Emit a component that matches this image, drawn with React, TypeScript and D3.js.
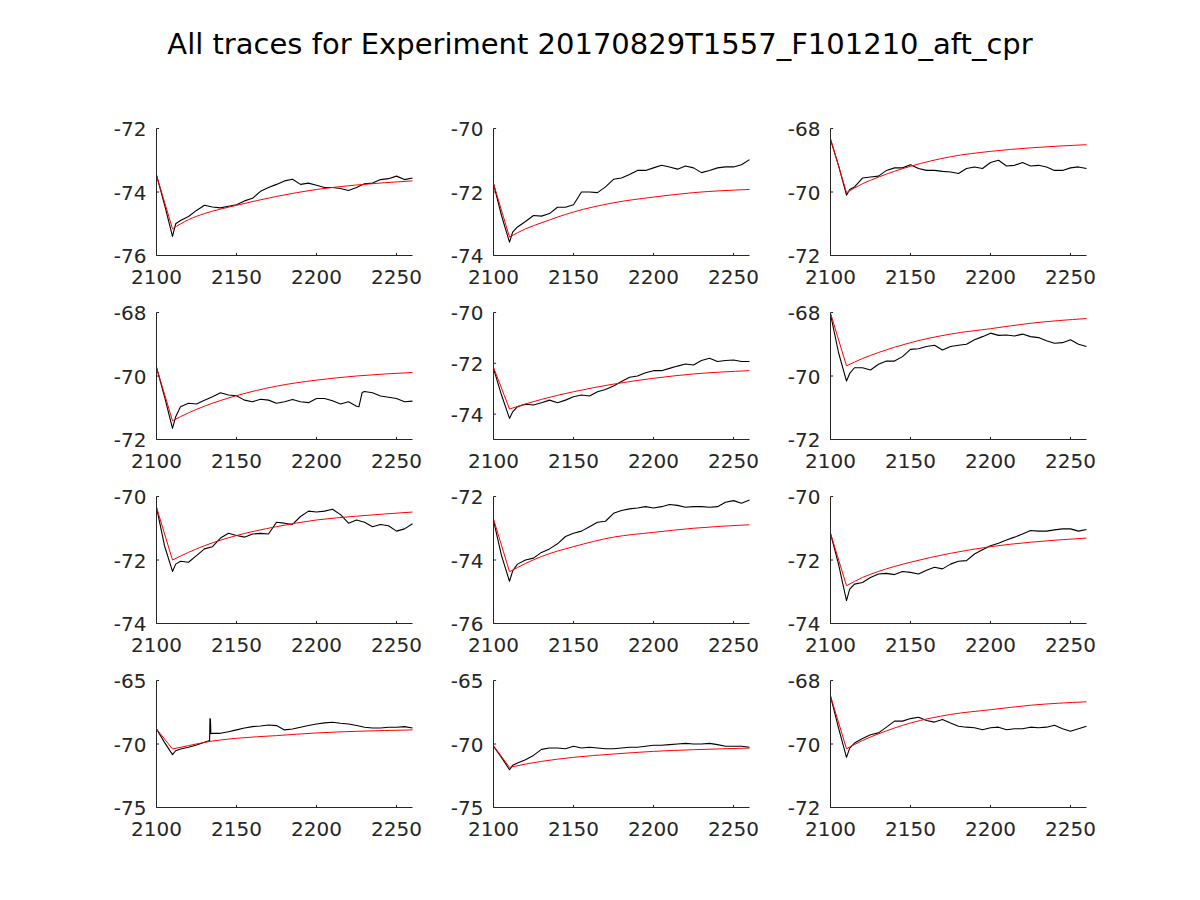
import React from "react";
import * as d3 from "d3";

const TITLE = "All traces for Experiment 20170829T1557_F101210_aft_cpr";

const TIME = [2100, 2105, 2110, 2112, 2115, 2120, 2125, 2130, 2135, 2140, 2145, 2150, 2155, 2160, 2165, 2170, 2175, 2180, 2185, 2190, 2195, 2200, 2205, 2210, 2215, 2220, 2225, 2230, 2235, 2240, 2245, 2250, 2255, 2260];
const FIT_TIME = [2100, 2110, 2120, 2130, 2150, 2175, 2200, 2225, 2260];
const X_TICKS = [2100, 2150, 2200, 2250];
const X_DOMAIN = [2100, 2260];

const TRACE_1 = [-73.47, -74.4, -75.4, -75.0, -74.9, -74.77, -74.58, -74.42, -74.47, -74.5, -74.45, -74.4, -74.28, -74.2, -73.98, -73.86, -73.76, -73.65, -73.6, -73.76, -73.72, -73.79, -73.86, -73.86, -73.89, -73.95, -73.86, -73.74, -73.72, -73.61, -73.58, -73.5, -73.61, -73.56];
const TRACE_2 = [-71.74, -72.74, -73.58, -73.26, -73.1, -72.93, -72.74, -72.76, -72.68, -72.48, -72.48, -72.4, -72.0, -72.0, -72.02, -71.84, -71.6, -71.56, -71.45, -71.32, -71.32, -71.24, -71.16, -71.21, -71.28, -71.18, -71.24, -71.39, -71.32, -71.24, -71.21, -71.21, -71.14, -70.98];
const TRACE_3 = [-68.35, -69.16, -70.1, -69.92, -69.84, -69.56, -69.53, -69.5, -69.32, -69.24, -69.24, -69.14, -69.26, -69.32, -69.32, -69.35, -69.37, -69.42, -69.26, -69.21, -69.26, -69.07, -69.0, -69.18, -69.16, -69.07, -69.18, -69.16, -69.21, -69.32, -69.32, -69.24, -69.21, -69.26];
const TRACE_4 = [-69.73, -70.65, -71.65, -71.28, -70.97, -70.86, -70.88, -70.76, -70.65, -70.53, -70.6, -70.62, -70.76, -70.81, -70.73, -70.76, -70.86, -70.81, -70.74, -70.81, -70.84, -70.71, -70.71, -70.78, -70.88, -70.81, -70.95, -70.49, -70.53, -70.63, -70.67, -70.71, -70.81, -70.79];
const TRACE_5 = [-72.2, -73.25, -74.17, -73.91, -73.71, -73.61, -73.64, -73.55, -73.45, -73.55, -73.45, -73.32, -73.25, -73.29, -73.12, -73.03, -72.89, -72.72, -72.55, -72.5, -72.37, -72.29, -72.29, -72.2, -72.11, -72.03, -72.07, -71.89, -71.8, -71.93, -71.89, -71.87, -71.93, -71.93];
const TRACE_6 = [-68.05, -69.26, -70.16, -69.92, -69.74, -69.74, -69.81, -69.63, -69.53, -69.53, -69.39, -69.16, -69.14, -69.07, -69.03, -69.18, -69.07, -69.03, -69.0, -68.86, -68.76, -68.65, -68.72, -68.71, -68.74, -68.68, -68.76, -68.79, -68.89, -68.97, -68.95, -68.86, -69.0, -69.07];
const TRACE_7 = [-70.34, -71.55, -72.36, -72.13, -72.04, -72.07, -71.86, -71.65, -71.58, -71.31, -71.16, -71.23, -71.28, -71.18, -71.16, -71.18, -70.81, -70.84, -70.88, -70.63, -70.46, -70.49, -70.46, -70.4, -70.57, -70.84, -70.74, -70.81, -70.95, -70.88, -70.92, -71.09, -71.02, -70.86];
const TRACE_8 = [-72.75, -73.86, -74.67, -74.34, -74.13, -74.0, -73.94, -73.76, -73.65, -73.49, -73.26, -73.16, -73.09, -72.95, -72.81, -72.78, -72.53, -72.44, -72.39, -72.36, -72.32, -72.36, -72.32, -72.25, -72.28, -72.34, -72.32, -72.32, -72.34, -72.32, -72.18, -72.13, -72.21, -72.11];
const TRACE_9 = [-71.16, -72.13, -73.28, -72.92, -72.76, -72.71, -72.55, -72.44, -72.42, -72.46, -72.36, -72.39, -72.44, -72.32, -72.23, -72.28, -72.13, -72.04, -72.02, -71.81, -71.68, -71.55, -71.47, -71.37, -71.28, -71.18, -71.07, -71.09, -71.09, -71.05, -71.02, -71.02, -71.09, -71.04];
const TRACE_10 = [-68.82, -69.87, -70.84, -70.53, -70.39, -70.26, -70.08, -69.87, -69.16, -69.16, -69.03, -68.89, -68.74, -68.63, -68.58, -68.5, -68.55, -68.89, -68.82, -68.68, -68.55, -68.42, -68.34, -68.29, -68.37, -68.42, -68.55, -68.68, -68.74, -68.74, -68.68, -68.68, -68.63, -68.74];
const TRACE_11 = [-70.18, -71.05, -72.03, -71.68, -71.5, -71.24, -70.9, -70.42, -70.32, -70.32, -70.37, -70.18, -70.32, -70.26, -70.32, -70.37, -70.37, -70.32, -70.26, -70.26, -70.18, -70.1, -70.1, -70.05, -70.0, -69.95, -70.0, -70.0, -69.95, -70.05, -70.18, -70.18, -70.18, -70.26];
const TRACE_12 = [-68.49, -69.49, -70.42, -70.13, -69.97, -69.83, -69.71, -69.65, -69.47, -69.28, -69.28, -69.2, -69.16, -69.26, -69.31, -69.23, -69.34, -69.44, -69.47, -69.49, -69.55, -69.49, -69.47, -69.55, -69.52, -69.52, -69.47, -69.49, -69.47, -69.41, -69.52, -69.6, -69.52, -69.44];

// extra samples for abrupt features
const EXTRA_4_TIME = [2226.5, 2228.5];
const EXTRA_4 = [-70.97, -70.52];
const EXTRA_10_TIME = [2133.2, 2133.4, 2133.7, 2134.0];
const EXTRA_10 = [-69.72, -68.0, -68.05, -69.2];

const FIT_1 = [-73.47, -75.16, -74.87, -74.68, -74.42, -74.14, -73.92, -73.78, -73.65];
const FIT_2 = [-71.74, -73.42, -73.16, -72.97, -72.63, -72.34, -72.16, -72.02, -71.92];
const FIT_3 = [-68.32, -70.02, -69.74, -69.53, -69.19, -68.89, -68.72, -68.61, -68.51];
const FIT_4 = [-69.73, -71.41, -71.16, -70.95, -70.62, -70.32, -70.13, -70.0, -69.89];
const FIT_5 = [-72.16, -73.8, -73.6, -73.42, -73.12, -72.82, -72.59, -72.42, -72.29];
const FIT_6 = [-68.02, -69.68, -69.45, -69.26, -68.95, -68.68, -68.51, -68.34, -68.19];
const FIT_7 = [-70.34, -72.0, -71.76, -71.55, -71.23, -70.95, -70.74, -70.62, -70.49];
const FIT_8 = [-72.71, -74.37, -74.11, -73.89, -73.58, -73.28, -73.13, -73.0, -72.89];
const FIT_9 = [-71.16, -72.81, -72.55, -72.36, -72.07, -71.79, -71.58, -71.44, -71.31];
const FIT_10 = [-68.82, -70.39, -70.13, -69.87, -69.55, -69.34, -69.13, -69.0, -68.89];
const FIT_11 = [-70.13, -71.84, -71.58, -71.37, -71.05, -70.79, -70.58, -70.45, -70.32];
const FIT_12 = [-68.49, -70.15, -69.89, -69.68, -69.34, -69.07, -68.92, -68.78, -68.67];

const Y_DOMAINS = [
  [-76, -72], [-74, -70], [-72, -68],
  [-72, -68], [-75, -70], [-72, -68],
  [-74, -70], [-76, -72], [-74, -70],
  [-75, -65], [-75, -65], [-72, -68],
];
const Y_TICKS = [
  [-76, -74, -72], [-74, -72, -70], [-72, -70, -68],
  [-72, -70, -68], [-74, -72, -70], [-72, -70, -68],
  [-74, -72, -70], [-76, -74, -72], [-74, -72, -70],
  [-75, -70, -65], [-75, -70, -65], [-72, -70, -68],
];

const TRACES = [TRACE_1, TRACE_2, TRACE_3, TRACE_4, TRACE_5, TRACE_6, TRACE_7, TRACE_8, TRACE_9, TRACE_10, TRACE_11, TRACE_12];
const FITS = [FIT_1, FIT_2, FIT_3, FIT_4, FIT_5, FIT_6, FIT_7, FIT_8, FIT_9, FIT_10, FIT_11, FIT_12];
const EXTRAS: Record<number, [number[], number[]]> = {
  3: [EXTRA_4_TIME, EXTRA_4],
  9: [EXTRA_10_TIME, EXTRA_10],
};

const COL_LEFT = [156.5, 493.5, 830.5];
const ROW_TOP = [128.5, 312.5, 496.5, 680.5];
const PW = 256;
const PH = 127;
const TXT = "#262626";
const FONT = "'DejaVu Sans', sans-serif";

function Panel({ idx }: { idx: number }) {
  const r = Math.floor(idx / 3);
  const c = idx % 3;
  const left = COL_LEFT[c];
  const top = ROW_TOP[r];
  const x = d3.scaleLinear().domain(X_DOMAIN).range([0, PW]);
  const y = d3.scaleLinear().domain(Y_DOMAINS[idx]).range([PH, 0]);

  let pts: [number, number][] = TIME.map((t, i) => [t, TRACES[idx][i]]);
  if (EXTRAS[idx]) {
    const [et, ev] = EXTRAS[idx];
    pts = pts.concat(et.map((t, i) => [t, ev[i]] as [number, number]));
    pts.sort((a, b) => a[0] - b[0]);
  }
  const line = d3.line<[number, number]>().x((d) => x(d[0])).y((d) => y(d[1]));
  const fitPts: [number, number][] = FIT_TIME.map((t, i) => [t, FITS[idx][i]]);
  const fitHead = line(fitPts.slice(0, 2)) || "";
  const fitTail = d3
    .line<[number, number]>()
    .x((d) => x(d[0]))
    .y((d) => y(d[1]))
    .curve(d3.curveMonotoneX)(fitPts.slice(1)) || "";

  const tl = 2.6;
  return (
    <g transform={`translate(${left},${top})`}>
      <path d={line(pts) || ""} fill="none" stroke="#000" strokeWidth={1.1} strokeLinejoin="round" />
      <path d={fitHead} fill="none" stroke="#ff0000" strokeWidth={1} />
      <path d={fitTail} fill="none" stroke="#ff0000" strokeWidth={1} />
      <line x1={0} x2={0} y1={0} y2={PH} stroke={TXT} strokeWidth={1} />
      <line x1={0} x2={PW} y1={PH} y2={PH} stroke={TXT} strokeWidth={1} />
      {X_TICKS.map((t) => (
        <g key={"x" + t}>
          <line x1={x(t)} x2={x(t)} y1={PH} y2={PH - tl} stroke={TXT} strokeWidth={1} />
          <text x={x(t)} y={PH + 28} textAnchor="middle" fontSize={20} fill={TXT} fontFamily={FONT}>
            {t}
          </text>
        </g>
      ))}
      {Y_TICKS[idx].map((t) => (
        <g key={"y" + t}>
          <line x1={0} x2={tl} y1={y(t)} y2={y(t)} stroke={TXT} strokeWidth={1} />
          <text x={-10} y={y(t) + 7.5} textAnchor="end" fontSize={20} fill={TXT} fontFamily={FONT}>
            {String(t)}
          </text>
        </g>
      ))}
    </g>
  );
}

export default function App() {
  return (
    <svg
      width={1200}
      height={900}
      style={{ position: "absolute", left: 0, top: 0, background: "#fff" }}
    >
      <rect width={1200} height={900} fill="#fff" />
      <text x={600} y={54} textAnchor="middle" fontSize={29} fill="#000" fontFamily={FONT}>
        {TITLE}
      </text>
      {TRACES.map((_, i) => (
        <Panel key={i} idx={i} />
      ))}
    </svg>
  );
}
